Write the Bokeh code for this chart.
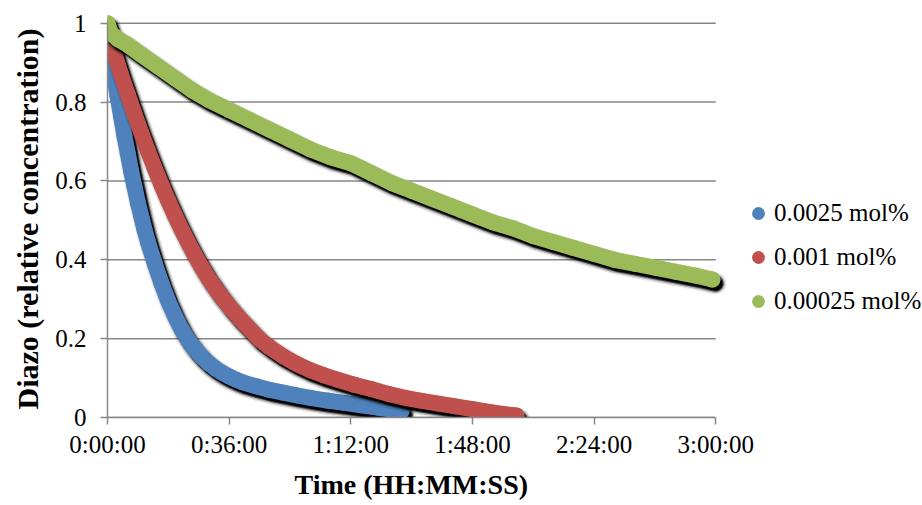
from bokeh.plotting import figure
from bokeh.models import ColumnDataSource, Range1d, FixedTicker, Legend, LegendItem, Title
from bokeh.transform import dodge
from bokeh.embed import file_html
from bokeh.resources import INLINE

# Elapsed time (minutes) and relative diazo concentration for each catalyst loading
t_0025 = [0, 1, 2, 3, 4, 5, 6, 7, 8, 9, 10, 11, 12, 14, 16, 18, 20, 22, 24, 26,
          28, 30, 32, 34, 36, 38, 40, 44, 48, 52, 56, 60, 65, 70, 75, 80, 84, 87]
c_0025 = [0.98, 0.925, 0.87, 0.815, 0.765, 0.715, 0.67, 0.625, 0.585, 0.545,
          0.51, 0.475, 0.445, 0.39, 0.34, 0.295, 0.257, 0.223, 0.195, 0.172,
          0.153, 0.137, 0.124, 0.113, 0.104, 0.096, 0.089, 0.079, 0.070, 0.063,
          0.056, 0.050, 0.043, 0.037, 0.031, 0.025, 0.020, 0.016]

t_001 = [0, 2, 4, 6, 8, 10, 12, 14, 16, 18, 20, 22, 24, 26, 28, 30, 33, 36, 39,
         42, 45, 48, 52, 56, 60, 64, 68, 73, 78, 83, 88, 93, 98, 103, 108, 113,
         118, 121]
c_001 = [0.98, 0.925, 0.87, 0.82, 0.77, 0.722, 0.676, 0.632, 0.59, 0.55, 0.512,
         0.476, 0.442, 0.41, 0.38, 0.352, 0.315, 0.282, 0.252, 0.225, 0.198,
         0.178, 0.155, 0.136, 0.12, 0.107, 0.096, 0.083, 0.072, 0.06, 0.05,
         0.042, 0.035, 0.028, 0.021, 0.014, 0.008, 0.005]

t_00025 = [0, 1, 3, 6, 10, 15, 20, 25, 30, 36, 42, 48, 54, 60, 66, 72, 78, 84,
           90, 96, 102, 108, 114, 120, 126, 132, 138, 144, 150, 156, 162, 168,
           174, 179]
c_00025 = [1.0, 0.975, 0.96, 0.945, 0.92, 0.89, 0.86, 0.83, 0.805, 0.78, 0.755,
           0.73, 0.705, 0.68, 0.66, 0.645, 0.62, 0.595, 0.575, 0.555, 0.535,
           0.515, 0.495, 0.48, 0.46, 0.445, 0.43, 0.415, 0.40, 0.39, 0.38,
           0.37, 0.36, 0.35]

series_labels = ["0.0025 mol%", "0.001 mol%", "0.00025 mol%"]
series_colors = ["#4F81BD", "#C0504D", "#9BBB59"]

x_ticks = [0, 36, 72, 108, 144, 180]
x_tick_labels = ["0:00:00", "0:36:00", "1:12:00", "1:48:00", "2:24:00", "3:00:00"]
y_ticks = [0, 0.2, 0.4, 0.6, 0.8, 1]
y_tick_labels = ["0", "0.2", "0.4", "0.6", "0.8", "1"]

x_title = "Time (HH:MM:SS)"
y_title = "Diazo (relative concentration)"

SERIF = "Liberation Serif"
GRID = "#878787"

# the frame runs to the right and top edges so the legend and marker caps stay visible
p = figure(width=922, height=505,
           x_range=Range1d(0, 241.18), y_range=Range1d(0, 1.0577),
           min_border_left=106, min_border_right=0,
           min_border_top=0, min_border_bottom=87,
           output_backend="svg", toolbar_location=None,
           background_fill_color="white", border_fill_color="white")
p.outline_line_color = None
p.xgrid.visible = False
p.ygrid.visible = False

# horizontal gridlines spanning the time axis
p.segment(x0=x_ticks[0], x1=x_ticks[-1], y0=y_ticks, y1=y_ticks,
          line_color=GRID, line_width=1.5)

for ax, ticks, labels in ((p.xaxis[0], x_ticks, x_tick_labels),
                          (p.yaxis[0], y_ticks, y_tick_labels)):
    ax.bounds = (ticks[0], ticks[-1])
    ax.ticker = FixedTicker(ticks=ticks)
    ax.major_label_overrides = {tk: lb for tk, lb in zip(ticks, labels)}
    ax.minor_tick_line_color = None
    ax.major_tick_in = 0
    ax.major_tick_out = 7
    ax.axis_line_color = GRID
    ax.axis_line_width = 1.5
    ax.major_tick_line_color = GRID
    ax.major_tick_line_width = 1.5
    ax.major_label_text_font = SERIF
    ax.major_label_text_font_size = "25px"
    ax.major_label_text_color = "black"

p.xaxis.major_label_standoff = 6
p.yaxis.major_label_standoff = 14

# axis titles centred on the 0..3 h / 0..1 span rather than the whole frame
title_style = dict(text_font=SERIF, text_font_style="bold",
                   text_color="black", align="left")
p.add_layout(Title(text=x_title, offset=187, standoff=12,
                   text_font_size="28px", **title_style), "below")
p.add_layout(Title(text=y_title, offset=8, standoff=17,
                   text_font_size="30px", **title_style), "left")

# drop-shadow offset: about 3 px right and 4 px down
DX = 0.89
DY = -0.0101

series = [(t_0025, c_0025), (t_001, c_001), (t_00025, c_00025)]
items = []
for (t, c), label, color in zip(series, series_labels, series_colors):
    src = ColumnDataSource(dict(t=t, c=c))
    sx, sy = dodge("t", DX), dodge("c", DY)
    for w, a in ((22, 0.10), (19, 0.25), (16.5, 0.6), (14.5, 0.95)):
        p.line(x=sx, y=sy, source=src, line_color="black", line_alpha=a,
               line_width=w, line_join="round", line_cap="round")
    p.line(x="t", y="c", source=src, line_color=color, line_width=16,
           line_join="round", line_cap="round")
    r = p.scatter(x="t", y="c", source=src, size=16, fill_color=color,
                  line_color=None)
    items.append(LegendItem(label=label, renderers=[r]))

legend = Legend(items=items, location=(635, 100),
                glyph_width=32, glyph_height=32, label_height=32,
                label_standoff=0, spacing=12, padding=0, margin=0,
                border_line_color=None, background_fill_alpha=0,
                label_text_font=SERIF, label_text_font_size="25px",
                label_text_color="black")
p.add_layout(legend)

open("out.html", "w").write(file_html(p, INLINE))
